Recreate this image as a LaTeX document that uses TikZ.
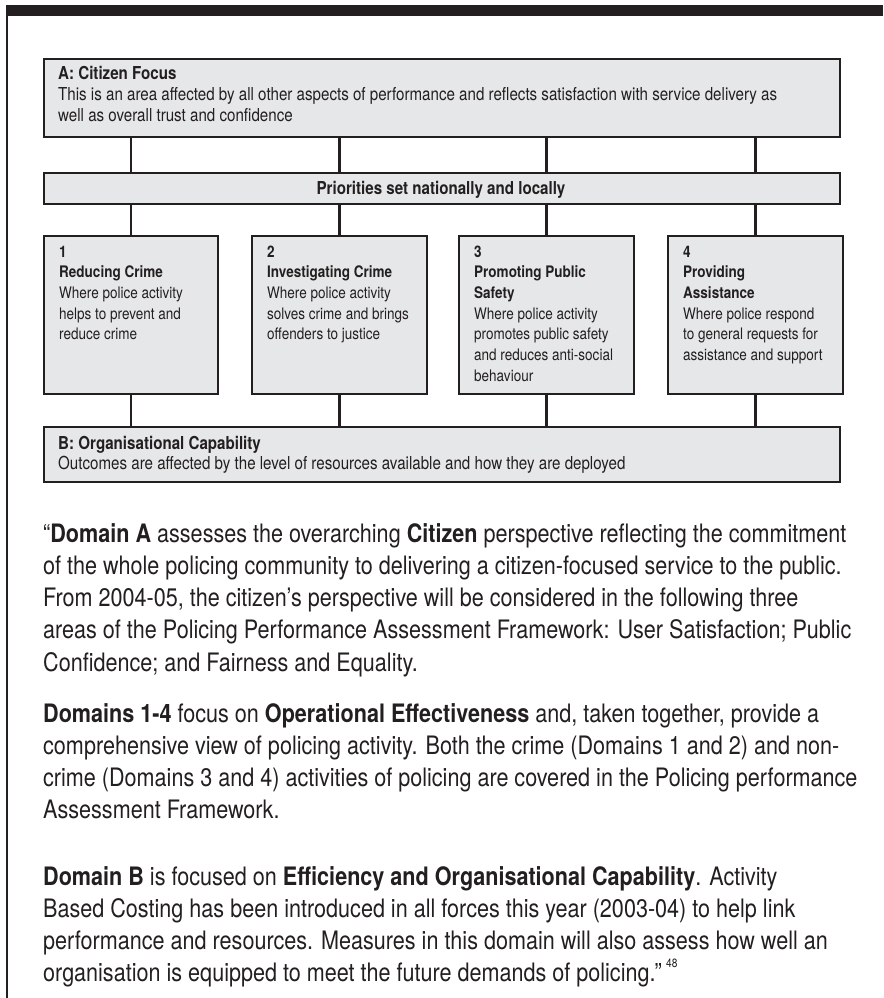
\documentclass[tikz,border=0pt]{standalone}
\usepackage{fontspec}
\setmainfont{TeX Gyre Heros}[FakeStretch=0.85]
\definecolor{boxfill}{HTML}{E6E7E8}
\definecolor{ink}{HTML}{231F20}
\newcommand\boxfont{\fontsize{17.8}{20.7}\selectfont}
\newcommand\smallboxfont{\fontsize{15.9}{20.7}\selectfont}
\newcommand\bodyfont{\fontsize{25.4}{32.3}\selectfont}
\newcommand\txtblock[2]{\parbox[t]{#1pt}{\raggedright #2}}
\tikzset{
  panel/.style={draw=ink, line width=2pt, fill=boxfill, inner sep=0pt, anchor=north west},
  link/.style={draw=ink, line width=2.4pt},
  boxtext/.style={anchor=base west, inner sep=0pt, font=\boxfont, text=ink},
  domtext/.style={anchor=base west, inner sep=0pt, font=\smallboxfont, text=ink},
  bodytext/.style={anchor=base west, inner sep=0pt, font=\bodyfont, text=ink}
}
\begin{document}
\begin{tikzpicture}[x=1pt,y=-1pt]
\useasboundingbox (0,0) rectangle (883,998);
% frame
\fill[ink] (6,5) rectangle (883,16);
\draw[ink, line width=2.5pt] (7.2,5) -- (7.2,998);
% boxes
\node[panel, minimum width=796pt, minimum height=78pt] (A) at (43,58) {};
\node[panel, minimum width=796pt, minimum height=31pt] (P) at (43,172) {};
\node[panel, minimum width=174pt, minimum height=158pt] (b1) at (43,235) {};
\node[panel, minimum width=175pt, minimum height=158pt] (b2) at (251,235) {};
\node[panel, minimum width=175pt, minimum height=158pt] (b3) at (458,235) {};
\node[panel, minimum width=175pt, minimum height=158pt] (b4) at (667,235) {};
\node[panel, minimum width=796pt, minimum height=55pt] (B) at (43,426) {};
% connectors
\foreach \b in {b1,b2,b3,b4}{
  \draw[link] (A.south -| \b.north) -- (P.north -| \b.north);
  \draw[link] (P.south -| \b.north) -- (\b.north);
  \draw[link] (\b.south) -- (B.north -| \b.south);
}
% box texts
\node[boxtext] (tA) at (58,80) {\txtblock{780}{\textbf{A: Citizen Focus}\\This is an area affected by all other aspects of performance and reflects satisfaction with service delivery as\\well as overall trust and confidence}};
\node[anchor=base, inner sep=0pt, font=\boxfont\bfseries, text=ink] (tP) at (441,194) {Priorities set nationally and locally};
\node[domtext] (t1) at (59,257) {\txtblock{160}{\textbf{1}\\\textbf{Reducing Crime}\\Where police activity\\helps to prevent and\\reduce crime}};
\node[domtext] (t2) at (267,257) {\txtblock{160}{\textbf{2}\\\textbf{Investigating Crime}\\Where police activity\\solves crime and brings\\offenders to justice}};
\node[domtext] (t3) at (474,257) {\txtblock{160}{\textbf{3}\\\textbf{Promoting Public}\\\textbf{Safety}\\Where police activity\\promotes public safety\\and reduces anti-social\\behaviour}};
\node[domtext] (t4) at (683,257) {\txtblock{160}{\textbf{4}\\\textbf{Providing}\\\textbf{Assistance}\\Where police respond\\to general requests for\\assistance and support}};
\node[boxtext] (tB) at (58,449) {\txtblock{780}{\textbf{B: Organisational Capability}\\Outcomes are affected by the level of resources available and how they are deployed}};
% body text
\node[bodytext] (p1) at (43,542) {\txtblock{840}{“\textbf{Domain A} assesses the overarching \textbf{Citizen} perspective reflecting the commitment\\of the whole policing community to delivering a citizen-focused service to the public.\\From 2004-05, the citizen’s perspective will be considered in the following three\\areas of the Policing Performance Assessment Framework: User Satisfaction; Public\\Confidence; and Fairness and Equality.}};
\node[bodytext] (p2) at (43,722) {\txtblock{840}{\textbf{Domains 1-4} focus on \textbf{Operational Effectiveness} and, taken together, provide a\\comprehensive view of policing activity. Both the crime (Domains 1 and 2) and non-\\crime (Domains 3 and 4) activities of policing are covered in the Policing performance\\Assessment Framework.}};
\node[bodytext] (p3) at (43,885) {\txtblock{840}{\textbf{Domain B} is focused on \textbf{Efficiency and Organisational Capability}. Activity\\Based Costing has been introduced in all forces this year (2003-04) to help link\\performance and resources. Measures in this domain will also assess how well an\\organisation is equipped to meet the future demands of policing.”\,\raisebox{0.55em}{\fontsize{12}{12}\selectfont 48}}};
\end{tikzpicture}
\end{document}
